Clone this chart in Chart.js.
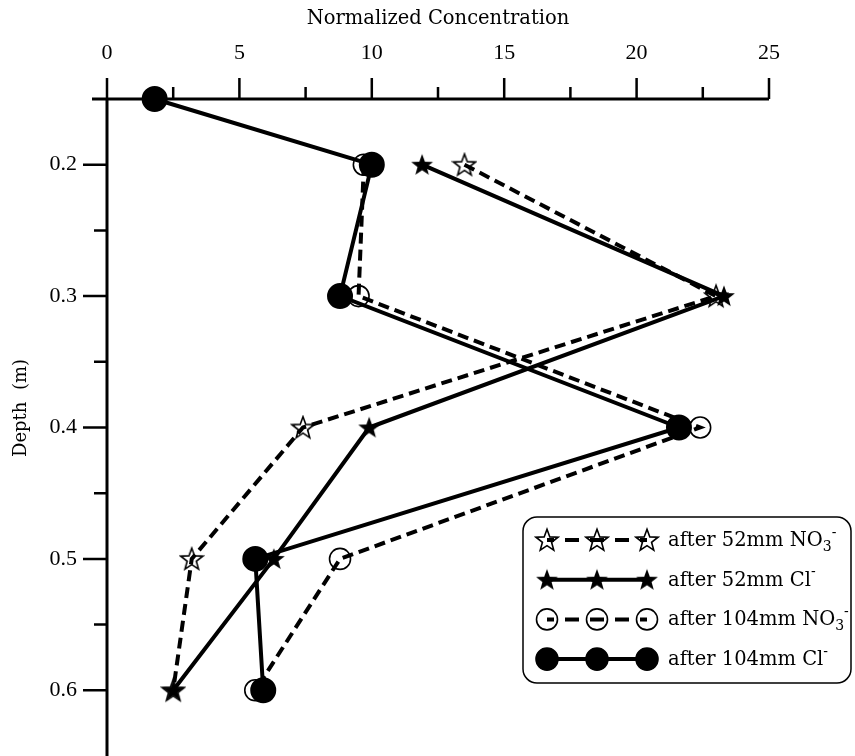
<!DOCTYPE html>
<html>
<head>
<meta charset="utf-8">
<script src="https://cdn.jsdelivr.net/npm/chart.js@4.4.0/dist/chart.umd.min.js"></script>
<style>
  html, body { margin: 0; padding: 0; background: #fff; }
</style>
</head>
<body>
<canvas id="myChart" width="855" height="756"></canvas>
<script>
// depth (m) of each sample row
var depths = [0.15, 0.2, 0.3, 0.4, 0.5, 0.6];
// normalized concentration per series (null = not measured)
var no3After52 = [null, 13.5, 23.0, 7.4, 3.2, 2.5];
var clAfter52 = [null, 11.9, 23.3, 9.9, 6.3, 2.5];
var no3After104 = [null, 9.7, 9.5, 22.4, 8.8, 5.6];
var clAfter104 = [1.8, 10.0, 8.8, 21.6, 5.6, 5.9];
var seriesLabels = ['after 52mm NO₃⁻', 'after 52mm Cl⁻', 'after 104mm NO₃⁻', 'after 104mm Cl⁻'];
var xTicks = [0, 5, 10, 15, 20, 25];
var xMinor = [2.5, 7.5, 12.5, 17.5, 22.5];
var yTicks = [0.2, 0.3, 0.4, 0.5, 0.6];
var yMinor = [0.25, 0.35, 0.45, 0.55];

var serif = 'DejaVu Serif';
var numFont = 'Liberation Serif';

function makeStar(filled) {
    var c = document.createElement('canvas');
    c.width = 26; c.height = 26;
    var g = c.getContext('2d');
    g.beginPath();
    for (var i = 0; i < 10; i++) {
        var a = -Math.PI / 2 + i * Math.PI / 5;
        var rad = i % 2 ? 4.8 : 11.5;
        g.lineTo(13 + rad * Math.cos(a), 13.8 + rad * Math.sin(a));
    }
    g.closePath();
    if (filled) { g.fillStyle = '#000'; g.fill(); }
    else { g.lineWidth = 1.6; g.strokeStyle = '#000'; g.stroke(); }
    return c;
}
var openStar = makeStar(false);
var fullStar = makeStar(true);

function toPoints(values) {
    var pts = [];
    for (var i = 0; i < depths.length; i++) {
        if (values[i] !== null) pts.push({ x: values[i], y: depths[i] });
    }
    return pts;
}

// dataset 0 is drawn last, so it sits on top
var datasets = [
    { label: seriesLabels[3], data: toPoints(clAfter104), pointStyle: 'circle', pointRadius: 11,
      pointBackgroundColor: '#000', pointBorderColor: '#000', borderDash: [] },
    { label: seriesLabels[1], data: toPoints(clAfter52), pointStyle: fullStar, pointRadius: 11, borderDash: [] },
    { label: seriesLabels[2], data: toPoints(no3After104), pointStyle: 'circle', pointRadius: 10.5,
      pointBackgroundColor: 'rgba(0,0,0,0)', pointBorderColor: '#000', pointBorderWidth: 1.6, borderDash: [11, 6] },
    { label: seriesLabels[0], data: toPoints(no3After52), pointStyle: openStar, pointRadius: 11, borderDash: [11, 6] }
];
datasets.forEach(function (d) {
    d.showLine = true;
    d.borderColor = '#000';
    d.borderWidth = 4;
    d.clip = false;
    d.pointHoverRadius = d.pointRadius;
});

var axisPlugin = {
    id: 'axisPlugin',
    beforeDatasetsDraw: function (chart) {
        var g = chart.ctx, ca = chart.chartArea;
        var xs = chart.scales.x, ys = chart.scales.y;
        g.save();
        g.strokeStyle = '#000';
        g.lineWidth = 3;
        g.beginPath();
        g.moveTo(ca.left - 15, ca.top); g.lineTo(ca.right, ca.top);
        g.moveTo(ca.left, ca.top); g.lineTo(ca.left, ca.bottom);
        g.stroke();
        g.lineWidth = 2.5;
        g.beginPath();
        xTicks.forEach(function (v) { var p = xs.getPixelForValue(v); g.moveTo(p, ca.top); g.lineTo(p, ca.top - 21); });
        xMinor.forEach(function (v) { var p = xs.getPixelForValue(v); g.moveTo(p, ca.top); g.lineTo(p, ca.top - 12); });
        yTicks.forEach(function (v) { var p = ys.getPixelForValue(v); g.moveTo(ca.left, p); g.lineTo(ca.left - 24, p); });
        yMinor.forEach(function (v) { var p = ys.getPixelForValue(v); g.moveTo(ca.left, p); g.lineTo(ca.left - 13, p); });
        g.stroke();
        g.restore();
    },
    afterDraw: function (chart) {
        // y title, centred a little above the middle like the original
        var g = chart.ctx;
        g.save();
        g.translate(21, 408);
        g.rotate(-Math.PI / 2);
        g.fillStyle = '#000';
        g.textAlign = 'center';
        g.textBaseline = 'middle';
        g.font = '18px "' + serif + '"';
        g.fillText('Depth  (m)', 0, 0);
        g.restore();
    }
};

function drawLabel(g, text, x, y, size) {
    var cx = x;
    for (var i = 0; i < text.length; i++) {
        var ch = text[i];
        if (ch === '₃') {
            g.font = Math.round(size * 0.72) + 'px "' + serif + '"';
            g.fillText('3', cx, y + 6);
            cx += g.measureText('3').width;
        } else if (ch === '⁻') {
            g.font = Math.round(size * 0.72) + 'px "' + serif + '"';
            g.fillText('-', cx, y - 8);
            cx += g.measureText('-').width;
        } else {
            g.font = size + 'px "' + serif + '"';
            g.fillText(ch, cx, y);
            cx += g.measureText(ch).width;
        }
    }
}

var legendPlugin = {
    id: 'boxLegend',
    afterDraw: function (chart) {
        var g = chart.ctx;
        var left = 523, top = 517, w = 328, h = 166;
        g.save();
        g.fillStyle = '#fff';
        g.strokeStyle = '#000';
        g.lineWidth = 1.5;
        g.beginPath();
        g.roundRect(left, top, w, h, 14);
        g.fill();
        g.stroke();
        var order = [3, 1, 2, 0];
        for (var r = 0; r < 4; r++) {
            var ds = chart.data.datasets[order[r]];
            var y = top + 23 + r * 39.7;
            var mx = [left + 24, left + 74, left + 124];
            g.strokeStyle = '#000';
            g.lineWidth = 4;
            g.setLineDash(ds.borderDash.length ? [14, 11] : []);
            g.lineDashOffset = 7;
            g.beginPath();
            g.moveTo(mx[0], y); g.lineTo(mx[2], y);
            g.stroke();
            g.setLineDash([]);
            mx.forEach(function (x) {
                if (ds.pointStyle === 'circle') {
                    g.beginPath();
                    g.arc(x, y, ds.pointRadius, 0, Math.PI * 2);
                    g.lineWidth = 1.6;
                    if (ds.pointBackgroundColor === '#000') { g.fillStyle = '#000'; g.fill(); }
                    g.stroke();
                } else {
                    g.drawImage(ds.pointStyle, x - 13, y - 13);
                }
            });
            g.fillStyle = '#000';
            g.textBaseline = 'middle';
            g.textAlign = 'left';
            drawLabel(g, ds.label, left + 145, y + 1, 19.5);
        }
        g.restore();
    }
};

var ctx = document.getElementById('myChart').getContext('2d');
var myChart = new Chart(ctx, {
    type: 'scatter',
    data: { datasets: datasets },
    plugins: [axisPlugin, legendPlugin],
    options: {
        responsive: false,
        animation: false,
        layout: { autoPadding: false, padding: { left: 0, right: 86, top: 0, bottom: 0 } },
        plugins: { legend: { display: false }, tooltip: { enabled: false } },
        scales: {
            x: {
                type: 'linear', position: 'top', min: 0, max: 25,
                grid: { display: true, drawOnChartArea: false, color: 'rgba(0,0,0,0)', tickLength: 21 },
                border: { display: false },
                afterBuildTicks: function (s) { s.ticks = xTicks.map(function (v) { return { value: v }; }); },
                afterFit: function (s) { s.height = 99; s.paddingLeft = 0; s.paddingRight = 0; },
                ticks: { padding: 12, color: '#000', maxRotation: 0, font: { family: numFont, size: 22 } },
                title: { display: true, text: 'Normalized Concentration', color: '#000',
                         font: { family: serif, size: 19.5 }, padding: { top: 7, bottom: 0 } }
            },
            y: {
                type: 'linear', position: 'left', reverse: true, min: 0.15, max: 0.65,
                grid: { display: true, drawOnChartArea: false, color: 'rgba(0,0,0,0)', tickLength: 24 },
                border: { display: false },
                afterBuildTicks: function (s) { s.ticks = yTicks.map(function (v) { return { value: v }; }); },
                afterFit: function (s) { s.width = 107; s.paddingTop = 0; s.paddingBottom = 0; },
                ticks: { padding: 6, color: '#000', font: { family: numFont, size: 22 },
                         callback: function (v) { return v.toFixed(1); } },
                title: { display: false }
            }
        }
    }
});
</script>
</body>
</html>
